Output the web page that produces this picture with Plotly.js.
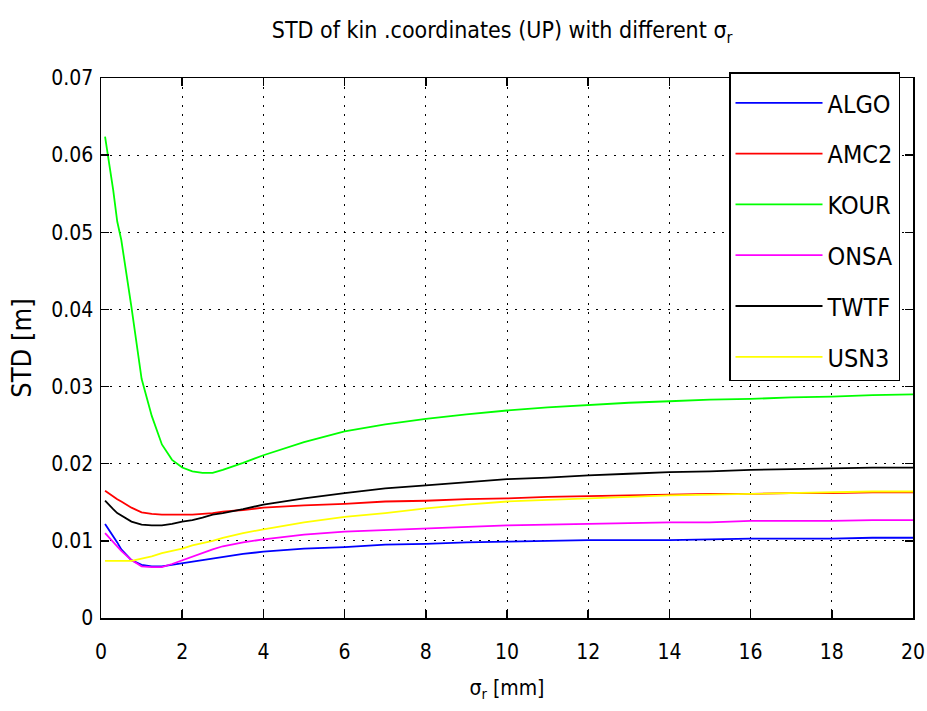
<!DOCTYPE html>
<html>
<head>
<meta charset="utf-8">
<script src="https://cdn.plot.ly/plotly-3.0.1.min.js"></script>
<style>html,body{margin:0;padding:0;background:#fff;}#chart{width:927px;height:711px;}</style>
</head>
<body>
<div id="chart"></div>
<script>
// sigma_r [mm]
const sigmaR = [0.1,0.2,0.3,0.4,0.5,0.75,1,1.25,1.5,1.75,2,2.25,2.5,2.75,3,3.5,4,5,6,7,8,9,10,11,12,13,14,15,16,17,18,19,20];

const ALGO = [0.0122,0.0114,0.0107,0.0098,0.0089,0.0075,0.0069,0.0067,0.0067,0.0069,0.0071,0.0073,0.0075,0.0077,0.0079,0.0083,0.0086,0.0090,0.0092,0.0095,0.0096,0.0098,0.0099,0.0100,0.0101,0.0101,0.0101,0.0102,0.0103,0.0103,0.0103,0.0104,0.0104];
const AMC2 = [0.0165,0.0161,0.0157,0.0154,0.0151,0.0143,0.0137,0.0135,0.0134,0.0134,0.0134,0.0134,0.0135,0.0136,0.0138,0.0140,0.0143,0.0146,0.0148,0.0151,0.0152,0.0154,0.0155,0.0157,0.0158,0.0159,0.0160,0.0161,0.0161,0.0162,0.0162,0.0163,0.0163];
const KOUR = [0.0624,0.0590,0.0555,0.0514,0.0490,0.0403,0.0310,0.0262,0.0225,0.0205,0.0195,0.0190,0.0188,0.0188,0.0192,0.0201,0.0211,0.0228,0.0242,0.0251,0.0258,0.0264,0.0269,0.0273,0.0276,0.0279,0.0281,0.0283,0.0284,0.0286,0.0287,0.0289,0.0290];
const ONSA = [0.0110,0.0104,0.0099,0.0093,0.0087,0.0075,0.0067,0.0066,0.0066,0.0070,0.0075,0.0080,0.0085,0.0089,0.0093,0.0098,0.0102,0.0108,0.0112,0.0114,0.0116,0.0118,0.0120,0.0121,0.0122,0.0123,0.0124,0.0124,0.0126,0.0126,0.0126,0.0127,0.0127];
const TWTF = [0.0152,0.0146,0.0141,0.0136,0.0133,0.0125,0.0121,0.0120,0.0120,0.0122,0.0125,0.0127,0.0130,0.0134,0.0136,0.0141,0.0147,0.0155,0.0162,0.0168,0.0172,0.0176,0.0180,0.0182,0.0185,0.0187,0.0189,0.0190,0.0192,0.0193,0.0194,0.0195,0.0195];
const USN3 = [0.0074,0.0074,0.0074,0.0074,0.0074,0.0074,0.0077,0.0080,0.0084,0.0087,0.0090,0.0094,0.0097,0.0100,0.0104,0.0110,0.0115,0.0124,0.0131,0.0136,0.0142,0.0147,0.0151,0.0153,0.0155,0.0157,0.0159,0.0160,0.0161,0.0162,0.0163,0.0164,0.0164];

const stationNames = ['ALGO','AMC2','KOUR','ONSA','TWTF','USN3'];
const stationValues = [ALGO, AMC2, KOUR, ONSA, TWTF, USN3];
const stationColors = ['#0000ff','#ff0000','#00ff00','#ff00ff','#000000','#ffff00'];

const xTicks = [0,2,4,6,8,10,12,14,16,18,20];
const yTicks = [0,0.01,0.02,0.03,0.04,0.05,0.06,0.07];
const yTickText = ['0','0.01','0.02','0.03','0.04','0.05','0.06','0.07'];

const FONT = '"DejaVu Sans Condensed", "Liberation Sans", Arial, sans-serif';

const traces = stationNames.map((n, i) => ({
  x: sigmaR, y: stationValues[i], type: 'scatter', mode: 'lines', name: n,
  legendgroup: n,
  line: {color: stationColors[i], width: 1.8}
}));

const axisCommon = {
  showline: true, linecolor: '#000', linewidth: 1.5, mirror: 'ticks',
  ticks: 'inside', ticklen: 8, tickwidth: 1.5, tickcolor: '#000',
  showgrid: true, gridcolor: '#000', gridwidth: 1, griddash: '2px,7px',
  zeroline: false, tickfont: {family: FONT, size: 21, color: '#000'}
};

const layout = {
  width: 927, height: 711,
  margin: {l: 101, r: 14, t: 78, b: 93},
  paper_bgcolor: '#fff', plot_bgcolor: '#fff',
  font: {family: FONT, color: '#000'},
  title: {text: 'STD of kin .coordinates (UP) with different σ<sub>r</sub>', font: {family: FONT, size: 23, color: '#000'},
          x: 0.494, xref: 'paper', y: 0.958, yref: 'container', yanchor: 'middle'},
  xaxis: Object.assign({}, axisCommon, {
    range: [0, 20], tickmode: 'array', tickvals: xTicks, ticktext: xTicks.map(String),
    ticklabelstandoff: 14,
    title: {text: 'σ<sub>r</sub> [mm]', font: {family: FONT, size: 21, color: '#000'}, standoff: 17}
  }),
  yaxis: Object.assign({}, axisCommon, {
    range: [0, 0.07], tickmode: 'array', tickvals: yTicks, ticktext: yTickText,
    ticklabelstandoff: 2,
    title: {text: 'STD [m]', font: {family: FONT, size: 27, color: '#000'}, standoff: 12}
  }),
  showlegend: true,
  legend: {
    x: 0.984, xanchor: 'right', y: 1.011, yanchor: 'top',
    bgcolor: '#fff', bordercolor: '#000', borderwidth: 1.5,
    font: {family: FONT, size: 25, color: '#000'},
    title: {text: '\u200b', font: {family: FONT, size: 5, color: '#fff'}},
    tracegroupgap: 15.3, itemwidth: 87
  }
};

Plotly.newPlot('chart', traces, layout, {displayModeBar: false, staticPlot: true});
</script>
</body>
</html>
